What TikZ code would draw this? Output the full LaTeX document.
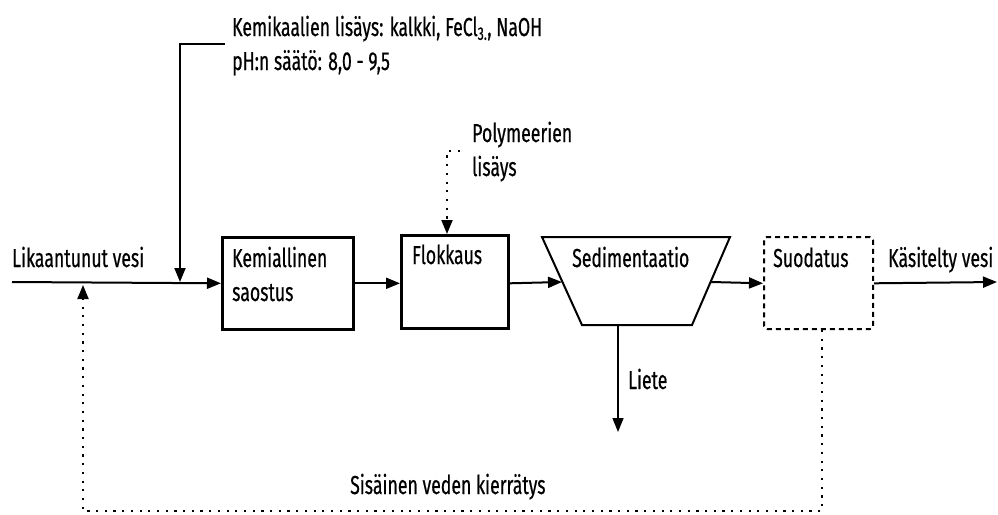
\documentclass[tikz,border=0pt]{standalone}
\usepackage{fontspec}
\setmainfont{Fira Sans}[FakeStretch=0.68,FakeBold=0.5]
\usetikzlibrary{arrows.meta}

\begin{document}
\begin{tikzpicture}[x=1pt,y=-1pt,
    box/.style ={draw, line width=2.6pt, inner sep=0pt, anchor=north west},
    txt/.style ={inner sep=0pt, anchor=base west, align=left, font=\fontsize{26}{34}\selectfont},
    flow/.style ={line width=2pt, -{Triangle[length=14pt,width=11pt]}},
    dots/.style ={line width=2pt, dash pattern=on 2.2pt off 6.5pt, -{Triangle[length=14pt,width=11pt]}}]
   \useasboundingbox (0,0) rectangle (998,514);
   % process units
   \node[box, minimum width=131, minimum height=92] (kem)  at (221,236)  {};
   \node[box, minimum width=107, minimum height=93] (flok) at (400,234)  {};
   \node[box, rounded corners=3pt, line width=2pt, dash pattern=on 5pt off 4pt,
         minimum width=109, minimum height=92] (suod) at (763,236) {};
   % settling tank
   \coordinate (sedtl) at (542,237);
   \coordinate (sedtr) at (730,237);
   \coordinate (sedbr) at (692,325);
   \coordinate (sedbl) at (582,325);
   \coordinate (sedin)  at (562,282);
   \coordinate (sedout) at (711,282);
   \draw[line width=2pt, line join=miter] (sedtl) -- (sedtr) -- (sedbr) -- (sedbl) -- cycle;
   % labels
   \node[txt] (kemtxt)  at (232,301) {Kemiallinen\\saostus};
   \node[txt] (floktxt) at (412,264) {Flokkaus};
   \node[txt] (sedtxt)  at (572,267) {Sedimentaatio};
   \node[txt] (suodtxt) at (773,267) {Suodatus};
   \node[txt] (intxt)   at (12,267)  {Likaantunut vesi};
   \node[txt] (outtxt)  at (888,267) {Käsitelty vesi};
   \node[txt] (chemtxt) at (232,70)  {Kemikaalien lisäys: kalkki, FeCl\textsubscript{3.}, NaOH\\pH:n säätö: 8,0 - 9,5};
   \node[txt] (polytxt) at (472,176) {Polymeerien\\lisäys};
   \node[txt] (sludgetxt) at (628,389) {Liete};
   \node[txt] (rectxt)  at (350,494) {Sisäinen veden kierrätys};
   % free ends
   \coordinate (inlet)  at (12,282);
   \coordinate (outlet) at (997,282);
   \coordinate (chem)   at (225,44);
   \coordinate (mix)    at (180,282);
   \coordinate (poly)   at (460,151);
   \coordinate (sludge) at (618,432);
   \coordinate (back)   at (83,285);
   \coordinate (recx)   at (822,511);
   % flows
   \draw[flow] (inlet) -- (kem.west);
   \draw[flow] (kem.east) -- (kem.east -| flok.west);
   \draw[flow] (kem.east -| flok.east) -- (sedin);
   \draw[flow] (sedout) -- (kem.east -| suod.west);
   \draw[flow] (kem.east -| suod.east) -- (outlet);
   \draw[flow] (chem) -| (mix);
   \draw[dots] (poly) -| (flok.north -| 447,0);
   \draw[flow, line width=1.5pt] (sludge |- sedbl) -- (sludge);
   \draw[dots] (recx |- suod.south) -- (recx) -| (back);
 \end{tikzpicture}
\end{document}
